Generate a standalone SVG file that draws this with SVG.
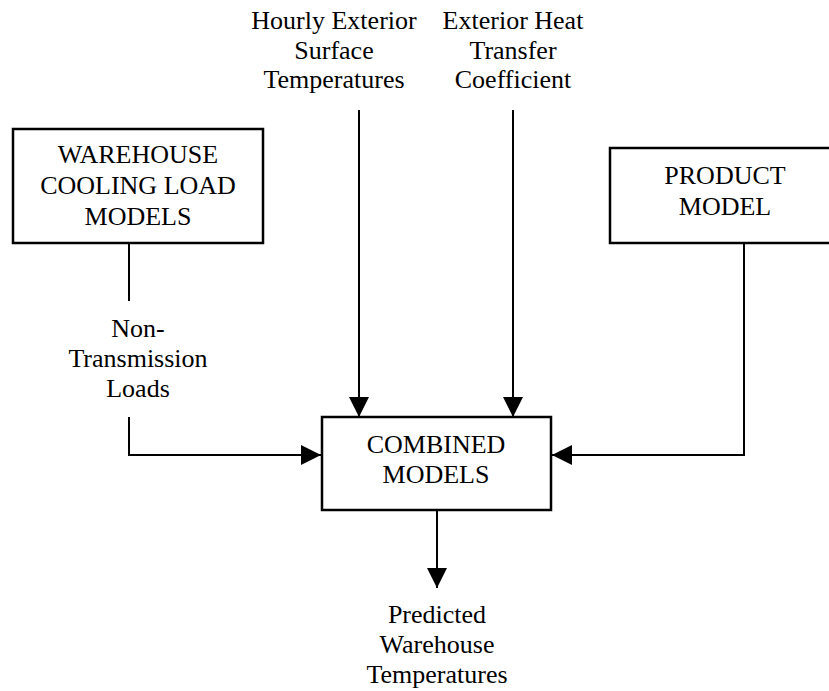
<svg xmlns="http://www.w3.org/2000/svg" width="829" height="691" viewBox="0 0 829 691">
<style>
text{font-family:"Liberation Serif","Times New Roman",serif;font-size:26px;fill:#000;text-anchor:middle}
.box{fill:#fff;stroke:#000;stroke-width:2.5}
.ln{fill:none;stroke:#000;stroke-width:2}
</style>
<defs>
<marker id="ah" markerUnits="userSpaceOnUse" markerWidth="20" markerHeight="20" refX="20" refY="10" orient="auto">
<path d="M0,0 L20,10 L0,20 Z" fill="#000"/>
</marker>
</defs>
<rect width="829" height="691" fill="#fff"/>
<g id="connectors">
<line class="ln" x1="129" y1="243" x2="129" y2="301"/>
<polyline class="ln" points="129,417 129,455 321,455" marker-end="url(#ah)"/>
<polyline class="ln" points="744,243 744,455 552,455" marker-end="url(#ah)"/>
<line class="ln" x1="359" y1="110" x2="359" y2="417" marker-end="url(#ah)"/>
<line class="ln" x1="513" y1="110" x2="513" y2="417" marker-end="url(#ah)"/>
<line class="ln" x1="437" y1="511" x2="437" y2="588" marker-end="url(#ah)"/>
</g>
<g id="warehouse">
<rect class="box" x="13" y="129" width="250" height="114"/>
<text x="138" y="163">WAREHOUSE</text>
<text x="138" y="194">COOLING LOAD</text>
<text x="138" y="225">MODELS</text>
</g>
<g id="product">
<rect class="box" x="610" y="148" width="240" height="95"/>
<text x="725" y="184">PRODUCT</text>
<text x="725" y="215">MODEL</text>
</g>
<g id="combined">
<rect class="box" x="322" y="417" width="229" height="93"/>
<text x="436" y="453">COMBINED</text>
<text x="436" y="483">MODELS</text>
</g>
<g id="hourly">
<text x="334" y="29">Hourly Exterior</text>
<text x="334" y="59">Surface</text>
<text x="334" y="88">Temperatures</text>
</g>
<g id="exterior">
<text x="513" y="29">Exterior Heat</text>
<text x="513" y="59">Transfer</text>
<text x="513" y="88">Coefficient</text>
</g>
<g id="nontransmission">
<text x="138" y="337">Non-</text>
<text x="138" y="367">Transmission</text>
<text x="138" y="397">Loads</text>
</g>
<g id="predicted">
<text x="437" y="623">Predicted</text>
<text x="437" y="653">Warehouse</text>
<text x="437" y="683">Temperatures</text>
</g>
</svg>
